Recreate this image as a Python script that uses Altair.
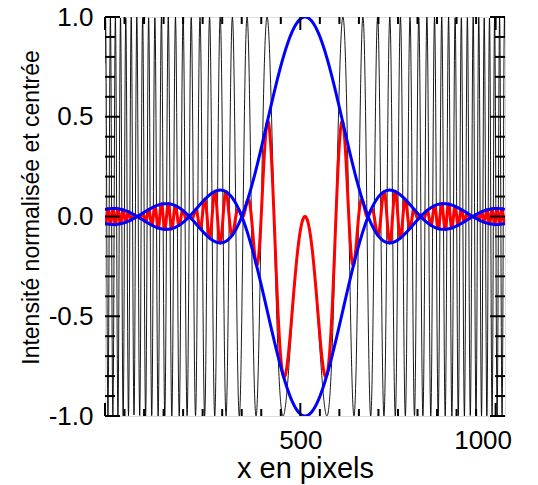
import numpy as np
import pandas as pd
import altair as alt

# --- values ---
x_domain = [0, 1024]
y_domain = [-1.0, 1.0]
center_px = 512          # centre of the pattern (x, pixels)
chirp_rate = 5.0e-4      # phase = chirp_rate * (x - centre)^2 (black fringes)
env_scale = 42.2         # envelope radius unit: first zero of envelope at ~162 px from centre

x_major = [0, 500, 1000]
x_minor = list(range(0, 1001, 50))
x_labels = [500, 1000]
y_major = [-1.0, -0.5, 0.0, 0.5, 1.0]
y_minor = [round(v, 1) for v in np.arange(-1.0, 1.01, 0.1)]

# --- curves ---
x = np.arange(0, 1024.0, 0.5)
r = np.abs(x - center_px)
tau = np.linspace(0, np.pi, 400)


def j1(z):
    vals = np.cos(tau[None, :] - z[:, None] * np.sin(tau[None, :]))
    return np.trapezoid(vals, tau, axis=1) / np.pi


z = r / env_scale
env = np.where(z < 1e-9, 1.0, 2 * j1(z) / np.where(z < 1e-9, 1.0, z))
black = -np.sin(chirp_rate * r ** 2)
red = env * black

df = pd.DataFrame({"x": x, "black": black, "red": red, "env_p": env, "env_n": -env})

W, H = 400, 399
xs = alt.Scale(domain=x_domain, nice=False, zero=False)
ys = alt.Scale(domain=y_domain, nice=False, zero=False)
FONT = "Liberation Sans"

base = alt.Chart(df)
black_line = base.mark_line(color="black", strokeWidth=0.9, clip=True).encode(
    x=alt.X("x:Q", scale=xs,
            axis=alt.Axis(values=x_labels, ticks=False, domain=False, grid=False,
                          labelExpr="format(datum.value, 'd')",
                          labelFontSize=26, labelFont=FONT, labelColor="black",
                          labelPadding=11,
                          labelOffset={"condition": {"test": "datum.value == 1000", "value": -13}, "value": 0},
                          title="x en pixels", titleFontSize=29, titleFont=FONT,
                          titleFontWeight="normal", titleColor="black", titlePadding=1)),
    y=alt.Y("black:Q", scale=ys,
            axis=alt.Axis(values=y_major, ticks=False, domain=False, grid=False,
                          labelExpr="replace(format(datum.value, '.1f'), '\u2212', '-')",
                          labelFontSize=26, labelFont=FONT, labelColor="black",
                          labelPadding=12,
                          title="Intensité normalisée et centrée", titleFontSize=23,
                          titleFont=FONT, titleFontWeight="normal",
                          titleColor="black", titlePadding=5, titleY=190)),
)
red_line = base.mark_line(color="#ff0000", strokeWidth=3, clip=True).encode(
    x=alt.X("x:Q", scale=xs), y=alt.Y("red:Q", scale=ys))
blue_p = base.mark_line(color="#0000ff", strokeWidth=3, clip=True).encode(
    x=alt.X("x:Q", scale=xs), y=alt.Y("env_p:Q", scale=ys))
blue_n = base.mark_line(color="#0000ff", strokeWidth=3, clip=True).encode(
    x=alt.X("x:Q", scale=xs), y=alt.Y("env_n:Q", scale=ys))

xt = pd.DataFrame({"v": x_minor, "major": [v in x_major for v in x_minor]})
yt = pd.DataFrame({"v": y_minor, "major": [any(abs(v - m) < 1e-9 for m in y_major) for v in y_minor]})

XMAJ, XMIN, YMAJ, YMIN = 13, 7, 15, 10


def xticks(major, top):
    L = XMAJ if major else XMIN
    d = alt.Chart(xt).transform_filter(f"datum.major == {str(major).lower()}")
    if top:
        return d.mark_rule(color="black", strokeWidth=2).encode(
            x=alt.X("v:Q", scale=xs), y=alt.value(0), y2=alt.value(L))
    return d.mark_rule(color="black", strokeWidth=2).encode(
        x=alt.X("v:Q", scale=xs), y=alt.value(H), y2=alt.value(H - L))


def yticks(major, left):
    L = YMAJ if major else YMIN
    d = alt.Chart(yt).transform_filter(f"datum.major == {str(major).lower()}")
    if left:
        return d.mark_rule(color="black", strokeWidth=2).encode(
            y=alt.Y("v:Q", scale=ys), x=alt.value(0), x2=alt.value(L))
    return d.mark_rule(color="black", strokeWidth=2).encode(
        y=alt.Y("v:Q", scale=ys), x=alt.value(W), x2=alt.value(W - L))


ticks = [xticks(m, t) for m in (True, False) for t in (True, False)] + \
        [yticks(m, l) for m in (True, False) for l in (True, False)]

chart = alt.layer(black_line, red_line, blue_p, blue_n, *ticks).properties(
    width=W, height=H,
    autosize=alt.AutoSizeParams(type="none"),
    padding={"left": 97, "top": 9, "right": 25, "bottom": 69},
).configure_view(stroke="black", strokeWidth=3).configure(background="white")

chart.save("out.html", embed_options={"renderer": "svg", "actions": False})
